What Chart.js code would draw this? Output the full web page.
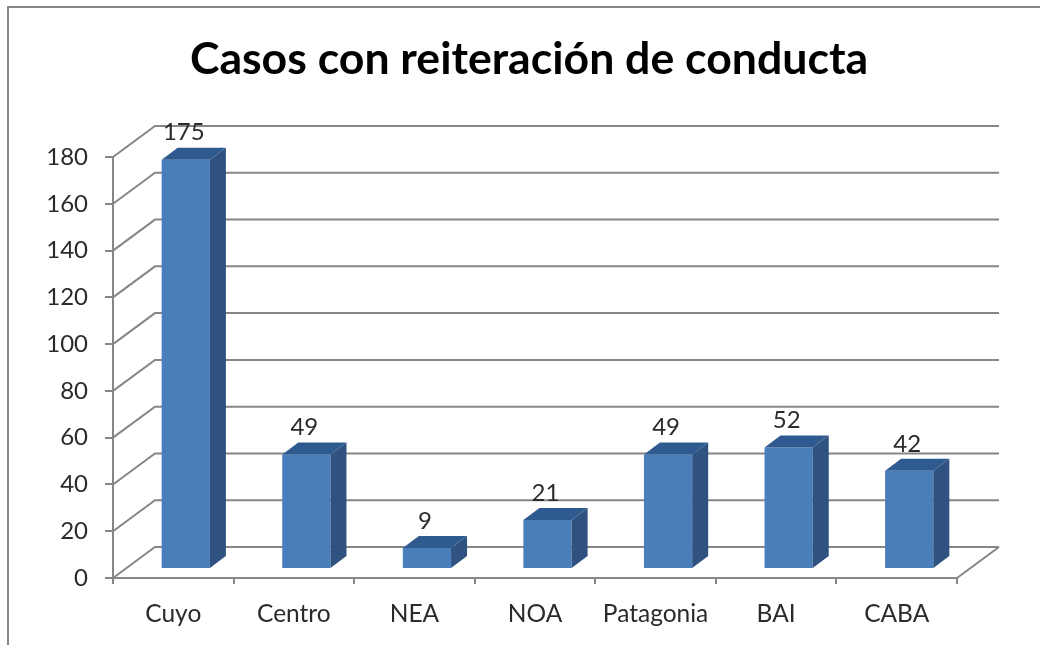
<!DOCTYPE html>
<html>
<head>
<meta charset="utf-8">
<title>Casos con reiteración de conducta</title>
<script src="https://cdn.jsdelivr.net/npm/chart.js@4"></script>
<style>
    html, body { margin: 0; padding: 0; background: #fff; }
    canvas { display: block; }
</style>
</head>
<body>
<canvas id="casosChart" width="1040" height="645"></canvas>
<script>
const categories = ["Cuyo", "Centro", "NEA", "NOA", "Patagonia", "BAI", "CABA"];
const casos = [175, 49, 9, 21, 49, 52, 42];
const yTicks = [0, 20, 40, 60, 80, 100, 120, 140, 160, 180];

const gridColor = "#868686";
const textColor = "#2b2b2b";
const fontName = "Lato";

// Fake 3D: how far the back wall and the bars sit from the front plane
const wallDx = 42, wallDy = -31;
const barDx = 12.5, barDy = -9;
const depthDx = 16, depthDy = -12;

const fake3d = {
    id: "fake3d",
    beforeDraw(chart) {
        // Frame of the original chart, only top and left are in the picture
        const ctx = chart.ctx;
        ctx.save();
        ctx.strokeStyle = gridColor;
        ctx.lineWidth = 2;
        ctx.beginPath();
        ctx.moveTo(8, chart.height);
        ctx.lineTo(8, 7);
        ctx.lineTo(chart.width, 7);
        ctx.stroke();
        ctx.restore();
    },
    beforeDatasetsDraw(chart) {
        const ctx = chart.ctx;
        const area = chart.chartArea;
        const yScale = chart.scales.y;

        // Wall lines go first so the bars cover them
        ctx.save();
        ctx.strokeStyle = gridColor;
        ctx.lineWidth = 2;
        yTicks.forEach(v => {
            const y = yScale.getPixelForValue(v);
            ctx.beginPath();
            ctx.moveTo(area.left, y);
            ctx.lineTo(area.left + wallDx, y + wallDy);
            ctx.lineTo(area.right + wallDx, y + wallDy);
            ctx.stroke();
        });
        // Right edge of the floor
        ctx.beginPath();
        ctx.moveTo(area.right, area.bottom);
        ctx.lineTo(area.right + wallDx, area.bottom + wallDy);
        ctx.stroke();
        ctx.restore();

        // Front face of the bars is moved into the middle of the floor
        ctx.save();
        ctx.translate(barDx, barDy);
    },
    afterDatasetsDraw(chart) {
        const ctx = chart.ctx;
        ctx.restore();

        ctx.save();
        chart.getDatasetMeta(0).data.forEach((bar, i) => {
            const right = bar.x + bar.width / 2 + barDx;
            const left = bar.x - bar.width / 2 + barDx;
            const top = bar.y + barDy;
            const bottom = bar.base + barDy;

            // Side face
            ctx.fillStyle = "#2f5280";
            ctx.beginPath();
            ctx.moveTo(right, top);
            ctx.lineTo(right + depthDx, top + depthDy);
            ctx.lineTo(right + depthDx, bottom + depthDy);
            ctx.lineTo(right, bottom);
            ctx.closePath();
            ctx.fill();

            // Top face
            ctx.fillStyle = "#2f5a90";
            ctx.beginPath();
            ctx.moveTo(left, top);
            ctx.lineTo(left + depthDx, top + depthDy);
            ctx.lineTo(right + depthDx, top + depthDy);
            ctx.lineTo(right, top);
            ctx.closePath();
            ctx.fill();

            // Value label
            ctx.fillStyle = textColor;
            ctx.font = "24px " + fontName;
            ctx.textAlign = "center";
            ctx.textBaseline = "middle";
            ctx.fillText(casos[i], bar.x + barDx - 2, top - 27);
        });
        ctx.restore();
    }
};

new Chart(document.getElementById("casosChart"), {
    type: "bar",
    data: {
        labels: categories,
        datasets: [{
            label: "Casos",
            data: casos,
            backgroundColor: "#4a7ebb",
            barPercentage: 0.4,
            categoryPercentage: 1
        }]
    },
    options: {
        responsive: false,
        animation: false,
        layout: {
            padding: { left: 18, right: 0, top: 0, bottom: 0 }
        },
        scales: {
            x: {
                afterFit: scale => { scale.height = 67; },
                grid: { drawOnChartArea: false, color: gridColor, lineWidth: 2, tickLength: 6 },
                border: { color: gridColor, width: 2 },
                ticks: { color: textColor, font: { family: fontName, size: 24.5 }, padding: 15, maxRotation: 0 }
            },
            y: {
                min: 0,
                max: 180,
                afterFit: scale => { scale.width = 95; },
                afterBuildTicks: scale => { scale.ticks = yTicks.map(value => ({ value })); },
                grid: { drawOnChartArea: false, color: gridColor, lineWidth: 2, tickLength: 8 },
                border: { color: gridColor, width: 2 },
                ticks: { color: textColor, font: { family: fontName, size: 24 }, padding: 17 }
            },
            // Empty axis, only keeps the room to the right of the plot for the back wall
            yRoom: {
                position: "right",
                afterFit: scale => { scale.width = 83; },
                grid: { display: false },
                border: { display: false },
                ticks: { display: false }
            }
        },
        plugins: {
            legend: { display: false },
            tooltip: { enabled: false },
            title: {
                display: true,
                text: "Casos con reiteración de conducta",
                color: "#000",
                font: { family: fontName, size: 44.6, weight: "bold" },
                padding: { top: 33, bottom: 70.5 }
            }
        }
    },
    plugins: [fake3d]
});
</script>
</body>
</html>
